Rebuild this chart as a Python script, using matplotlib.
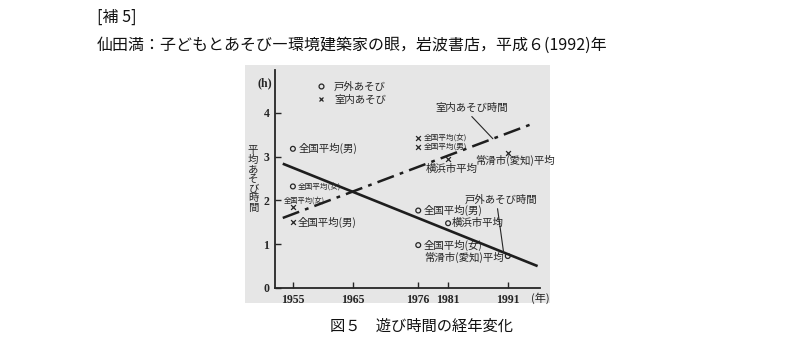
import matplotlib.pyplot as plt
import numpy as np
from matplotlib.lines import Line2D

jp = ['Noto Sans CJK JP', 'DejaVu Sans']
serif = 'Liberation Serif'
ink = '#262626'

# trend lines (year, hours)
out_trend_x = [1953.3, 1996.0]
out_trend_y = [2.84, 0.50]
in_trend_x = [1953.3, 1995.5]
in_trend_y = [1.60, 3.77]

# survey points
out_years = [1955, 1955, 1976, 1976, 1981, 1991]
out_vals = [3.18, 2.32, 1.77, 0.98, 1.48, 0.73]
out_labels = ['全国平均(男)', '全国平均(女)', '全国平均(男)', '全国平均(女)', '横浜市平均', '常滑市(愛知)平均']
in_years = [1955, 1955, 1976, 1976, 1981, 1991]
in_vals = [1.86, 1.50, 3.43, 3.23, 2.95, 3.09]
in_labels = ['全国平均(女)', '全国平均(男)', '全国平均(女)', '全国平均(男)', '横浜市平均', '常滑市(愛知)平均']

xticks = [1955, 1965, 1976, 1981, 1991]
yticks = [0, 1, 2, 3, 4]

fig = plt.figure(figsize=(8, 3.64), dpi=100)

# header / caption
fig.text(97/800, 1-17/364, '[補 5]', family=jp, fontsize=11.5, va='center', color='#111')
fig.text(97/800, 1-45/364, '仙田満：子どもとあそび―環境建築家の眼，岩波書店，平成６(1992)年',
         family=jp, fontsize=11.5, va='center', color='#111')
fig.text(421/800, 1-326/364, '図５　遊び時間の経年変化', family=jp, fontsize=11,
         ha='center', va='center', color='#111')

# scanned grey panel
bg = fig.add_axes([245/800, 1-303/364, 305/800, 238/364])
bg.set_facecolor('#e6e6e6')
bg.set_xticks([])
bg.set_yticks([])
for s in bg.spines.values():
    s.set_visible(False)

ax = fig.add_axes([275/800, 1-288/364, 265/800, 218/364])
ax.set_zorder(2)
ax.set_facecolor('none')
ax.set_xlim(1952.0, 1996.4)
ax.set_ylim(0, 4.98)
for s in ['top', 'right']:
    ax.spines[s].set_visible(False)
for s in ['left', 'bottom']:
    ax.spines[s].set_color(ink)
    ax.spines[s].set_linewidth(1.3)
ax.set_xticks(xticks)
ax.set_yticks(yticks)
ax.tick_params(direction='in', length=4, width=1, color=ink, labelcolor=ink, pad=4)
for lab in ax.get_xticklabels() + ax.get_yticklabels():
    lab.set_family(serif)
    lab.set_fontsize(8.5)
    lab.set_weight('bold')

ax.plot(out_trend_x, out_trend_y, color='#1e1e1e', lw=1.9, solid_capstyle='butt')
ax.plot(in_trend_x, in_trend_y, color='#1e1e1e', lw=1.8, dashes=[7, 2.5, 1.5, 2.5])

ax.scatter(out_years, out_vals, marker='o', s=12, facecolors='none', edgecolors=ink, linewidths=0.9)
ax.scatter(in_years, in_vals, marker='x', s=12, color=ink, linewidths=0.9)

# label offsets in pixels (dx, dy up), size, ha
out_fmt = [(6, 0, 7.5, 'left'), (5, 0, 5.5, 'left'), (5, 0, 7.5, 'left'),
           (5, 0, 7.5, 'left'), (4, 0, 7.5, 'left'), (-4, -1, 7.5, 'right')]
in_fmt = [(-9, 6, 5.2, 'left'), (5, 0, 7.5, 'left'), (5, 0, 5.5, 'left'),
          (5, 0, 5.5, 'left'), (4, -10, 7.5, 'center'), (-33, -8, 7.5, 'left')]
for x, y, t, f in zip(out_years, out_vals, out_labels, out_fmt):
    ax.annotate(t, (x, y), xytext=(f[0], f[1]), textcoords='offset pixels',
                ha=f[3], va='center', fontsize=f[2], family=jp, color=ink)
for x, y, t, f in zip(in_years, in_vals, in_labels, in_fmt):
    ax.annotate(t, (x, y), xytext=(f[0], f[1]), textcoords='offset pixels',
                ha=f[3], va='center', fontsize=f[2], family=jp, color=ink)

# leader labels for trend lines
ax.annotate('室内あそび時間', (1988.5, np.interp(1988.5, in_trend_x, in_trend_y)),
            xytext=(-21, 31), textcoords='offset pixels', ha='center', va='center',
            fontsize=7.5, family=jp, color=ink,
            arrowprops=dict(arrowstyle='-', color=ink, lw=0.8, relpos=(0.45, 0), shrinkA=1, shrinkB=0))
ax.annotate('戸外あそび時間', (1990.3, np.interp(1990.3, out_trend_x, out_trend_y)),
            xytext=(-3, 53), textcoords='offset pixels', ha='center', va='center',
            fontsize=7.5, family=jp, color=ink,
            arrowprops=dict(arrowstyle='-', color=ink, lw=0.8, relpos=(0.45, 0), shrinkA=1, shrinkB=0))

handles = [Line2D([], [], ls='none', marker='o', ms=3.5, mfc='none', mec=ink, mew=0.9),
           Line2D([], [], ls='none', marker='x', ms=3.5, color=ink, mew=0.9)]
ax.legend(handles, ['戸外あそび', '室内あそび'], loc='upper left',
          bbox_to_anchor=(0.14, 0.97), frameon=False, prop={'family': jp, 'size': 7.5},
          handlelength=0.8, handletextpad=0.8, borderpad=0, labelspacing=0.25,
          labelcolor=ink)

# axis unit labels
ax.text(-0.04, 0.94, '(h)', transform=ax.transAxes, ha='center', va='center',
        family=serif, fontsize=8.5, weight='bold', color=ink)
ax.text(1.0, -0.045, '(年)', transform=ax.transAxes, ha='center', va='center',
        family=jp, fontsize=8, color=ink)
fig.text(253/800, 1-179/364, '\n'.join('平均あそび時間'), family=jp, fontsize=7.5,
         ha='center', va='center', linespacing=0.95, color=ink, zorder=3)

fig.savefig('out.png', dpi=100)
